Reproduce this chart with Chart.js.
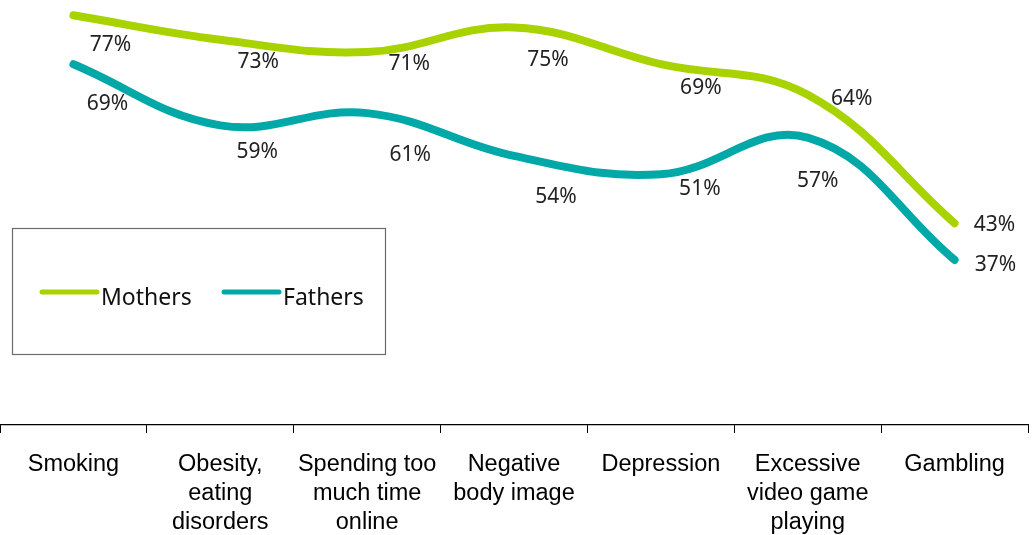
<!DOCTYPE html>
<html lang="en">
<head>
    <meta charset="UTF-8" />
    <title>Mothers and Fathers</title>
    <script src="https://cdn.jsdelivr.net/npm/chart.js@4.4.0/dist/chart.umd.min.js"></script>
    <style>
        html, body { margin: 0; padding: 0; background: #fff; }
        #wrap { width: 1032px; height: 535px; }
    </style>
</head>
<body>
    <div id="wrap"><canvas id="myChart"></canvas></div>
    <script>
        // categories and values
        const categories = [
            ['Smoking'],
            ['Obesity,', 'eating', 'disorders'],
            ['Spending too', 'much time', 'online'],
            ['Negative', 'body image'],
            ['Depression'],
            ['Excessive', 'video game', 'playing'],
            ['Gambling']
        ]
        const mothers = [77, 73, 71, 75, 69, 64, 43]
        const fathers = [69, 59, 61, 54, 51, 57, 37]

        // where each value label sits relative to its point (px)
        const motherLabelShift = [[37, 30], [38, 22], [42, 12], [34, 32], [40, 24], [44, 4], [40, 2]]
        const fatherLabelShift = [[34, 40], [37, 27], [43, 42], [42, 41], [39, 15], [10, 43], [41, 5]]

        const valueLabels = {
            id: 'valueLabels',
            afterDatasetsDraw(chart) {
                const ctx = chart.ctx
                const shifts = [motherLabelShift, fatherLabelShift]
                ctx.save()
                ctx.font = '21px "Noto Sans", sans-serif'
                ctx.fillStyle = '#222'
                ctx.textAlign = 'center'
                ctx.textBaseline = 'middle'
                chart.data.datasets.forEach((ds, i) => {
                    chart.getDatasetMeta(i).data.forEach((pt, j) => {
                        const s = shifts[i][j]
                        ctx.fillText(ds.data[j] + '%', pt.x + s[0], pt.y + s[1])
                    })
                })
                ctx.restore()
            }
        }

        // boxed legend inside the plot, bottom left
        const boxLegend = {
            id: 'boxLegend',
            afterDraw(chart) {
                const ctx = chart.ctx
                const left = 12, top = 228, w = 373, h = 126
                ctx.save()
                ctx.strokeStyle = '#6b6b6b'
                ctx.lineWidth = 1.2
                ctx.strokeRect(left + 0.5, top + 0.5, w, h)
                ctx.font = '23px "Noto Sans", sans-serif'
                ctx.textBaseline = 'middle'
                let x = left + 30
                const y = top + 64
                chart.data.datasets.forEach(ds => {
                    ctx.strokeStyle = ds.borderColor
                    ctx.lineWidth = 5
                    ctx.lineCap = 'round'
                    ctx.beginPath()
                    ctx.moveTo(x, y)
                    ctx.lineTo(x + 55, y)
                    ctx.stroke()
                    ctx.fillStyle = '#111'
                    ctx.fillText(ds.label, x + 59, y + 6)
                    x += 182
                })
                ctx.restore()
            }
        }

        const ctx = document.getElementById('myChart').getContext('2d')
        const myChart = new Chart(ctx, {
            type: 'line',
            data: {
                labels: categories,
                datasets: [
                    {
                        label: 'Mothers',
                        data: mothers,
                        borderColor: '#a8d300',
                        backgroundColor: '#a8d300',
                        borderWidth: 8,
                        borderCapStyle: 'round',
                        tension: 0.4,
                        pointRadius: 0,
                        fill: false
                    },
                    {
                        label: 'Fathers',
                        data: fathers,
                        borderColor: '#00a8a8',
                        backgroundColor: '#00a8a8',
                        borderWidth: 8,
                        borderCapStyle: 'round',
                        tension: 0.4,
                        pointRadius: 0,
                        fill: false
                    }
                ]
            },
            options: {
                responsive: true,
                maintainAspectRatio: false,
                animation: false,
                layout: { padding: { left: 0, right: 4, top: 0, bottom: 0 } },
                plugins: {
                    legend: { display: false },
                    tooltip: { enabled: false }
                },
                scales: {
                    x: {
                        offset: true,
                        afterFit(scale) { scale.height = 110 },
                        grid: {
                            offset: true,
                            drawOnChartArea: false,
                            tickLength: 8,
                            tickColor: '#000',
                            tickWidth: 1
                        },
                        border: { color: '#000', width: 1.2 },
                        ticks: {
                            color: '#000',
                            padding: 17,
                            maxRotation: 0,
                            autoSkip: false,
                            font: { family: '"Liberation Sans", Arial, sans-serif', size: 23.5, lineHeight: 1.235 }
                        }
                    },
                    y: {
                        display: false,
                        min: 10,
                        max: 79.5
                    }
                }
            },
            plugins: [valueLabels, boxLegend]
        })
    </script>
</body>
</html>
